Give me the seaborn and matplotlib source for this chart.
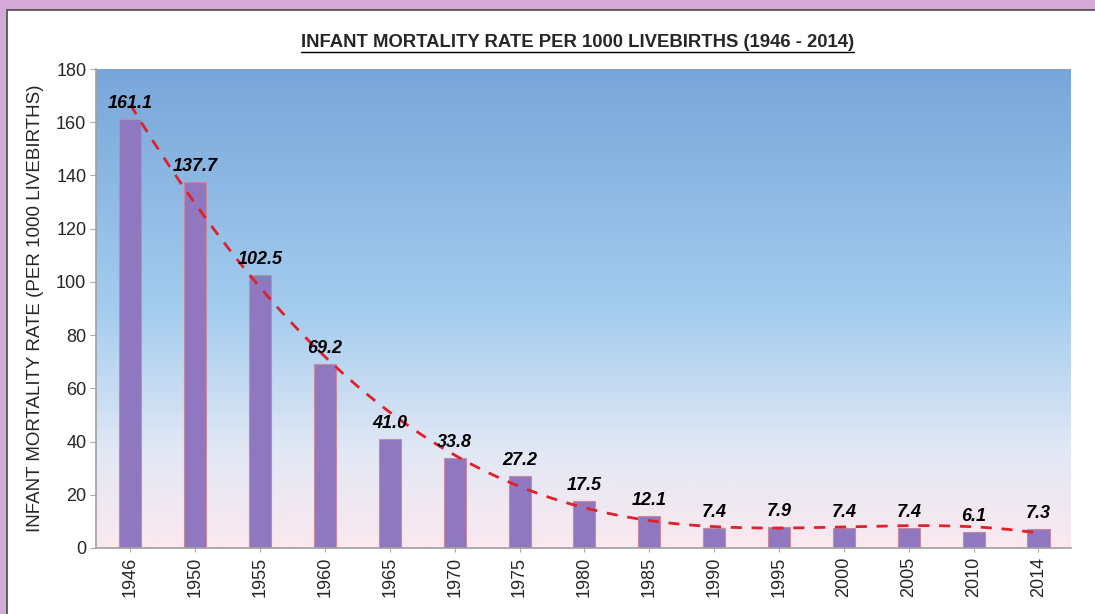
import numpy as np
import pandas as pd
import matplotlib
matplotlib.use("Agg")
import matplotlib.pyplot as plt
import seaborn as sns
from matplotlib.colors import LinearSegmentedColormap
from matplotlib.patches import Rectangle
from matplotlib.lines import Line2D

# chart data
years = ["1946", "1950", "1955", "1960", "1965", "1970", "1975", "1980",
         "1985", "1990", "1995", "2000", "2005", "2010", "2014"]
rates = [161.1, 137.7, 102.5, 69.2, 41.0, 33.8, 27.2, 17.5,
         12.1, 7.4, 7.9, 7.4, 7.4, 6.1, 7.3]
y_ticks = [0, 20, 40, 60, 80, 100, 120, 140, 160, 180]

title = "INFANT MORTALITY RATE PER 1000 LIVEBIRTHS (1946 - 2014)"
y_label = "INFANT MORTALITY RATE (PER 1000 LIVEBIRTHS)"

df = pd.DataFrame({"Year": years, "Rate": rates})

sns.set_style("white")
plt.rcParams["font.family"] = ["Liberation Sans", "DejaVu Sans"]

fig = plt.figure(figsize=(10.95, 6.14), dpi=100)
fig.patch.set_facecolor("#d3abd6")

# white panel with dark top border
panel = Rectangle((7 / 1095, -0.01), 1.0, 1 - 10 / 614 + 0.01,
                  transform=fig.transFigure, facecolor="white",
                  edgecolor="#4a4a4a", linewidth=1.2, zorder=0)
fig.add_artist(panel)

ax = fig.add_axes([0.0877, 0.1075, 0.978 - 0.0877, 0.8876 - 0.1075])

# gradient background of the plot area
grad_cmap = LinearSegmentedColormap.from_list(
    "bg", [(0.0, "#fbe8ef"), (0.2, "#e2e8f5"), (0.5, "#a3ccee"), (1.0, "#79a6da")])
gradient = np.linspace(0, 1, 256).reshape(-1, 1)
ax.imshow(gradient, cmap=grad_cmap, aspect="auto", origin="lower",
          extent=[0, 1, 0, 1], transform=ax.transAxes, zorder=0)

sns.barplot(data=df, x="Year", y="Rate", color="#8f78bf", width=0.34,
            saturation=1, edgecolor="#c98a9f", linewidth=0.8, ax=ax, zorder=2)

ax.bar_label(ax.containers[0], labels=[f"{v:.1f}" for v in rates], padding=5,
             fontsize=13, fontweight="bold", fontstyle="italic", color="black", zorder=4)

# polynomial trend line (dashed red), 4th order like a spreadsheet trendline
pos = np.arange(len(rates))
coef = np.polyfit(pos, rates, 4)
xs = np.linspace(0, len(rates) - 1, 300)
ax.plot(xs, np.polyval(coef, xs), ls=(0, (4, 3.5)), color="#e0202a", lw=2, zorder=3)

ax.set_xlim(-0.53, len(rates) - 0.5)
ax.set_ylim(0, 180)
ax.set_yticks(y_ticks)
ax.tick_params(axis="y", labelsize=13, length=4, color="#aaaaaa", left=True, pad=3)
ax.tick_params(axis="x", labelsize=13, length=3, color="#aaaaaa", rotation=90, bottom=True)
ax.set_xlabel("")
ax.set_ylabel(y_label, fontsize=13.5, labelpad=9)

for side in ["top", "right"]:
    ax.spines[side].set_visible(False)
for side in ["left", "bottom"]:
    ax.spines[side].set_color("#a0a0a0")
    ax.spines[side].set_linewidth(1.2)

t = fig.text(0.527, 0.93, title, ha="center", va="center", fontsize=13.3, fontweight="bold")

# underline the title
fig.canvas.draw()
bb = t.get_window_extent()
inv = fig.transFigure.inverted()
(x0, y0), (x1, _) = inv.transform([(bb.x0, bb.y0 - 1), (bb.x1, bb.y0)])
fig.add_artist(Line2D([x0, x1], [y0, y0], transform=fig.transFigure, color="black", lw=1))

fig.savefig("out.png", dpi=100, facecolor=fig.get_facecolor())
